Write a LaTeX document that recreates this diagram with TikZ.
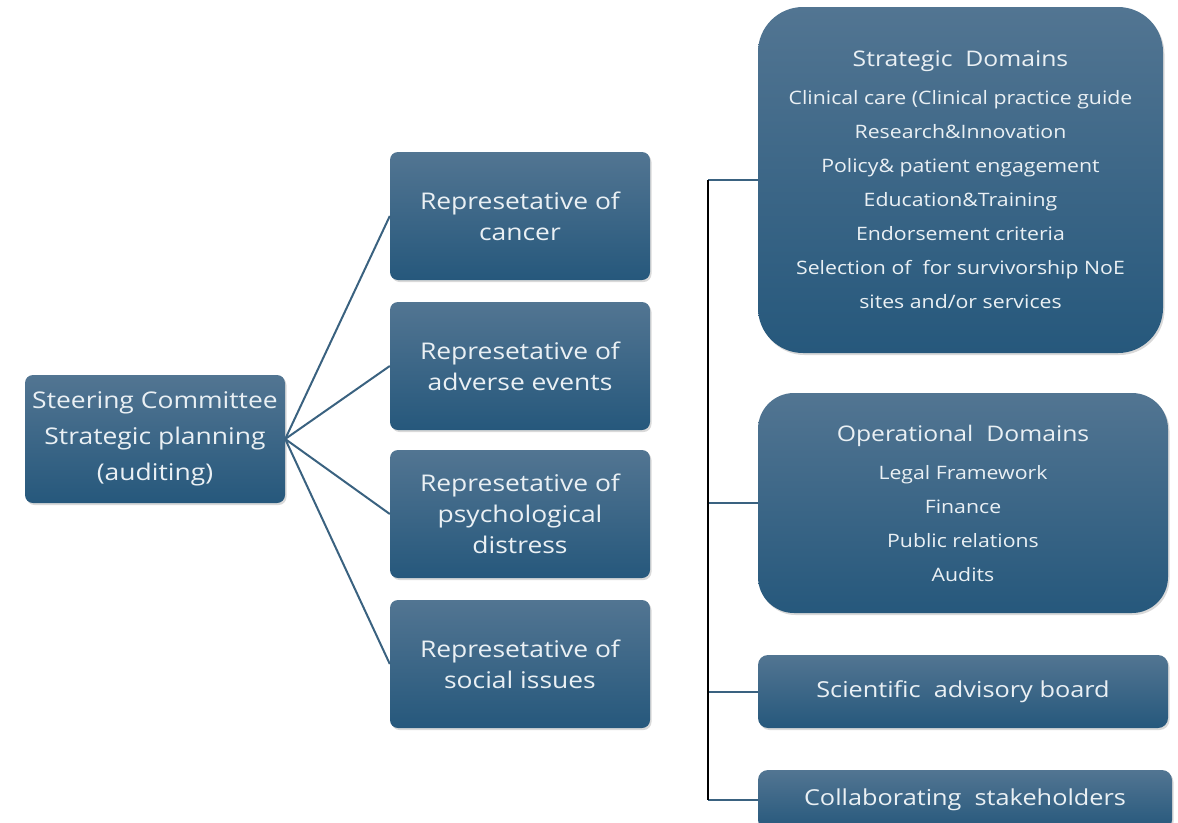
\documentclass[tikz,border=0pt]{standalone}
\usepackage{fontspec}
\setmainfont[FakeStretch=1.15]{Open Sans}
\usepackage{tikz}
\usetikzlibrary{shadows}
\usetikzlibrary{positioning}
\usetikzlibrary{calc}

\definecolor{boxtop}{RGB}{82,117,146}
\definecolor{boxbot}{RGB}{38,88,124}
\definecolor{linkblue}{RGB}{58,98,128}
\definecolor{boxtext}{RGB}{234,240,244}

\begin{document}
\begin{tikzpicture}[x=1pt, y=-1pt,
  box/.style={rectangle, rounded corners=8pt, top color=boxtop, bottom color=boxbot,
    text=boxtext, align=center, inner sep=0pt,
    drop shadow={opacity=0.3, shadow xshift=1.5pt, shadow yshift=-2pt}},
  repbox/.style={box, minimum width=260pt, minimum height=128pt, font=\fontsize{23}{31}\selectfont},
  domainbox/.style={box, font=\fontsize{18.5}{34}\selectfont},
  link/.style={draw=linkblue, line width=2pt},
  trunk/.style={draw=black, line width=2.2pt}]

\useasboundingbox (0,0) rectangle (1178,822);

\node[repbox, font=\fontsize{23}{36}\selectfont] (steer) at (155,439) {Steering Committee\\Strategic planning\\(auditing)};

\node[repbox] (cancer) at (520,216) {Represetative of\\cancer};
\node[repbox] (adverse) at (520,366) {Represetative of\\adverse events};
\node[repbox] (psych) at (520,514) {Represetative of\\psychological\\distress};
\node[repbox] (social) at (520,664) {Represetative of\\social issues};

\node[domainbox, minimum width=405pt, minimum height=346pt, rounded corners=45pt] (strat) at (960.5,180)
  {{\fontsize{21.5}{34}\selectfont Strategic\ \ Domains}\\[4pt]
   Clinical care (Clinical practice guide\\
   Research\&Innovation\\
   Policy\& patient engagement\\
   Education\&Training\\
   Endorsement criteria\\
   Selection of\ \ for survivorship NoE\\
   sites and/or services};

\node[domainbox, minimum width=410pt, minimum height=220pt, rounded corners=36pt] (oper) at (963,503)
  {{\fontsize{21.5}{34}\selectfont Operational\ \ Domains}\\[4pt]
   Legal Framework\\
   Finance\\
   Public relations\\
   Audits};

\node[domainbox, minimum width=410pt, minimum height=73pt, rounded corners=10pt, font=\fontsize{22}{28}\selectfont] (sci) at (963,691.5) {Scientific\ \ advisory board};
\node[domainbox, minimum width=414pt, minimum height=60pt, rounded corners=10pt, font=\fontsize{22}{28}\selectfont] (collab) at (965,800) {Collaborating\ \ stakeholders};

% fan to the representatives
\draw[link] (steer.east) -- (cancer.west);
\draw[link] (steer.east) -- (adverse.west);
\draw[link] (steer.east) -- (psych.west);
\draw[link] (steer.east) -- (social.west);

% right hand branches
\coordinate (trunkx) at (708,0);
\draw[link] (strat.west -| trunkx) -- (strat.west);
\draw[link] (oper.west -| trunkx) -- (oper.west);
\draw[link] (sci.west -| trunkx) -- (sci.west);
\draw[link] (collab.west -| trunkx) -- (collab.west);
\draw[trunk] (strat.west -| trunkx) -- (collab.west -| trunkx);

\end{tikzpicture}
\end{document}
